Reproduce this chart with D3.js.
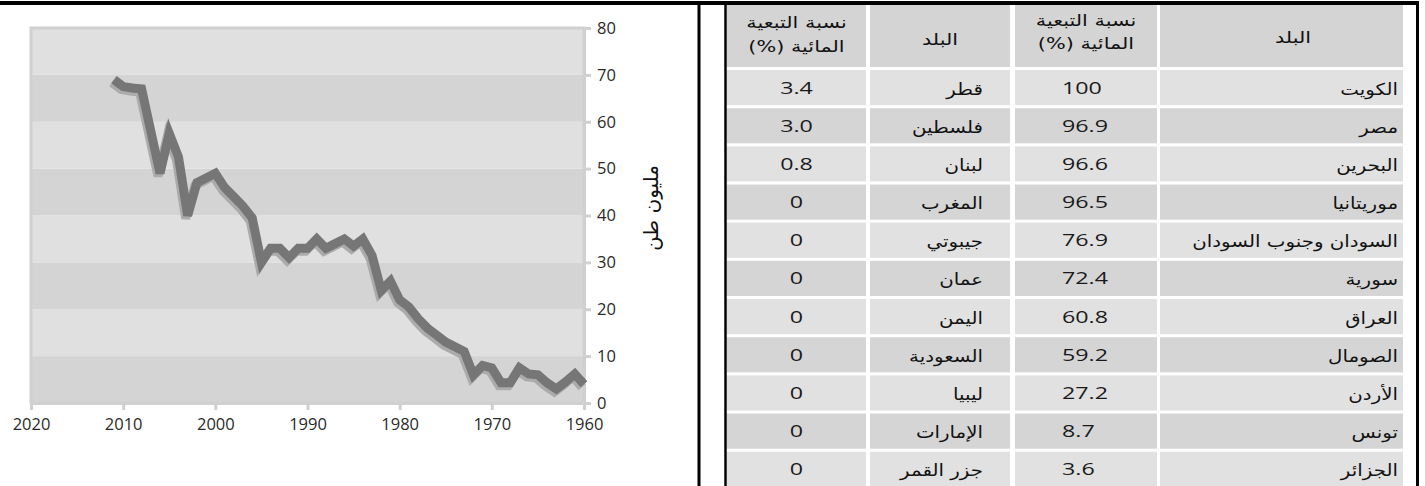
<!DOCTYPE html>
<html><head><meta charset="utf-8">
<script src="https://cdn.jsdelivr.net/npm/d3@7"></script>
<style>body{margin:0;background:#fff;} svg{display:block;}</style>
</head><body>
<svg id="c" width="1425" height="486"></svg>
<script>
// ---------- DATA ----------
const years = [2011,2010,2009,2008,2007,2006,2005,2004,2003,2002,2001,2000,1999,1998,1997,1996,1995,1994,1993,1992,1991,1990,1989,1988,1987,1986,1985,1984,1983,1982,1981,1980,1979,1978,1977,1976,1975,1974,1973,1972,1971,1970,1969,1968,1967,1966,1965,1964,1963,1962,1961,1960];
const tonnes = [69,67.5,67.2,67,58,49,57.5,52.5,40,47,48,49,46,44,42,39.5,30,33,33,31,33,33,35,33,34,35,33.5,35,31.5,24,26,22,20.5,18,16,14.5,13,12,11,6,8,7.5,4.3,4.3,7.5,6.2,6,4.3,3,4.5,6.2,4];
const xTickValues = [2020,2010,2000,1990,1980,1970,1960];
const yTickValues = [0,10,20,30,40,50,60,70,80];
const yAxisTitle = "مليون طن";

const headerRatio = ["نسبة التبعية","المائية (%)"];
const headerCountry = "البلد";
const countriesRight = ["الكويت","مصر","البحرين","موريتانيا","السودان وجنوب السودان","سورية","العراق","الصومال","الأردن","تونس","الجزائر"];
const ratiosRight = ["100","96.9","96.6","96.5","76.9","72.4","60.8","59.2","27.2","8.7","3.6"];
const countriesLeft = ["قطر","فلسطين","لبنان","المغرب","جيبوتي","عمان","اليمن","السعودية","ليبيا","الإمارات","جزر القمر"];
const ratiosLeft = ["3.4","3.0","0.8","0","0","0","0","0","0","0","0"];

// ---------- CHART ----------
const svg = d3.select("#c");
const x = d3.scaleLinear().domain([2020, 1960]).range([31, 584]);
const y = d3.scaleLinear().domain([0, 80]).range([403, 28]);

const chart = svg.append("g");
chart.selectAll("rect.band").data(yTickValues.slice(0, -1)).join("rect")
  .attr("class","band")
  .attr("x", x(2020)).attr("width", x(1960) - x(2020))
  .attr("y", d => y(d + 10)).attr("height", d => y(d) - y(d + 10))
  .attr("fill", d => (d / 10) % 2 === 0 ? "#d4d4d4" : "#e0e0e0");
chart.append("rect")
  .attr("x", x(2020)).attr("y", y(80))
  .attr("width", x(1960) - x(2020)).attr("height", y(0) - y(80))
  .attr("fill","none").attr("stroke","#d0d0d0").attr("stroke-width",3);

const yAxis = chart.append("g").attr("transform", `translate(${x(1960)},0)`)
  .call(d3.axisRight(y).tickValues(yTickValues).tickSize(7).tickSizeOuter(0).tickPadding(6));
const xAxis = chart.append("g").attr("transform", `translate(0,${y(0)})`)
  .call(d3.axisBottom(x).tickValues(xTickValues).tickFormat(d3.format("d")).tickSize(7).tickSizeOuter(0).tickPadding(8));
[yAxis, xAxis].forEach(a => {
  a.select(".domain").attr("stroke","#d0d0d0").attr("stroke-width",3);
  a.selectAll(".tick line").attr("stroke","#d0d0d0").attr("stroke-width",3);
  a.selectAll(".tick text").attr("fill","#2a2a2a")
    .style("font-family","'Open Sans', sans-serif").style("font-size","16.5px");
});

const pts = d3.zip(years, tonnes);
const line = d3.line().x(d => x(d[0])).y(d => y(d[1]));
chart.append("path").datum(pts).attr("d", line)
  .attr("transform","translate(-2,3)")
  .attr("fill","none").attr("stroke","#ababab").attr("stroke-width",9).attr("stroke-linejoin","miter");
chart.append("path").datum(pts).attr("d", line)
  .attr("fill","none").attr("stroke","#767676").attr("stroke-width",9).attr("stroke-linejoin","miter");

chart.append("text")
  .attr("transform", `translate(658,208) rotate(-90)`)
  .attr("text-anchor","middle").attr("direction","rtl")
  .style("font-family","'DejaVu Sans', sans-serif").style("font-size","20px").attr("fill","#111")
  .text(yAxisTitle);

// ---------- TABLE ----------
const colX = [727, 870, 1015, 1160];
const colW = [139, 140, 142, 243];
const row = d3.scaleBand().domain(d3.range(countriesRight.length))
  .range([70, 70 + 38.17 * countriesRight.length - 3]).paddingInner(3 / 38.17);
const tbl = svg.append("g");
tbl.selectAll("rect.hd").data(colX).join("rect").attr("class","hd")
  .attr("x", d => d).attr("y", 5).attr("width", (d, i) => colW[i]).attr("height", 62)
  .attr("fill","#d4d4d4");
const cells = [];
d3.range(countriesRight.length).forEach(r => colX.forEach((cx, c) => cells.push({r, c})));
tbl.selectAll("rect.cell").data(cells).join("rect").attr("class","cell")
  .attr("x", d => colX[d.c]).attr("width", d => colW[d.c])
  .attr("y", d => row(d.r)).attr("height", row.bandwidth())
  .attr("fill", d => d.r % 2 === 0 ? "#e1e1e1" : "#d5d5d5");

const numFont = "'Open Sans', sans-serif", arFont = "'DejaVu Sans', sans-serif";
function stretched(sel, sx) {
  return sel.attr("transform", d => `translate(${d.x},${d.y}) scale(${sx},1)`);
}
const textRows = [];
d3.range(countriesRight.length).forEach(r => {
  const base = row(r) + row.bandwidth() / 2 + 6;
  textRows.push({x: colX[0] + colW[0] / 2, y: base, t: ratiosLeft[r], a: "middle", ar: false});
  textRows.push({x: 983, y: base + 1, t: countriesLeft[r], a: "start", ar: true});
  textRows.push({x: 1062, y: base, t: ratiosRight[r], a: "start", ar: false});
  textRows.push({x: 1398, y: base + 1, t: countriesRight[r], a: "start", ar: true});
});
stretched(tbl.selectAll("text.num").data(textRows.filter(d => !d.ar)).join("text").attr("class","num"), 1.37)
  .attr("text-anchor", d => d.a).style("font-family", numFont).style("font-size","17px").attr("fill","#1a1a1a")
  .text(d => d.t);
stretched(tbl.selectAll("text.ar").data(textRows.filter(d => d.ar)).join("text").attr("class","ar"), 1.2)
  .attr("text-anchor", d => d.a).attr("direction","rtl").style("font-family", arFont).style("font-size","16.5px").attr("fill","#111")
  .text(d => d.t);

const headTexts = [
  {x: colX[0] + colW[0] / 2, y: 28, t: headerRatio[0]},
  {x: colX[0] + colW[0] / 2, y: 52, t: headerRatio[1]},
  {x: colX[1] + colW[1] / 2, y: 45, t: headerCountry},
  {x: colX[2] + colW[2] / 2, y: 26, t: headerRatio[0]},
  {x: colX[2] + colW[2] / 2, y: 49, t: headerRatio[1]},
  {x: 1293, y: 43, t: headerCountry}
];
stretched(tbl.selectAll("text.hd").data(headTexts).join("text").attr("class","hd"), 1.3)
  .attr("text-anchor","middle").attr("direction","rtl").style("font-family", arFont).style("font-size","16px").attr("fill","#111")
  .text(d => d.t);

// ---------- FRAME LINES ----------
const frame = svg.append("g").attr("stroke","#000");
frame.append("line").attr("x1",0).attr("x2",1419).attr("y1",3).attr("y2",3).attr("stroke-width",4);
frame.append("line").attr("x1",699).attr("x2",699).attr("y1",3).attr("y2",486).attr("stroke-width",3);
frame.append("line").attr("x1",725.5).attr("x2",725.5).attr("y1",3).attr("y2",486).attr("stroke-width",2.5);
frame.append("line").attr("x1",1417.5).attr("x2",1417.5).attr("y1",3).attr("y2",486).attr("stroke-width",3);
</script>
</body></html>
